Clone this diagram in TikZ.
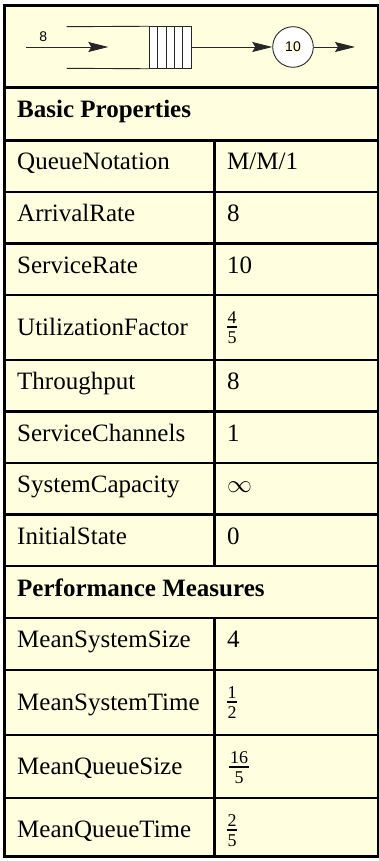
\documentclass[tikz,border=0pt]{standalone}
\usepackage{fontspec}
\setmainfont{Liberation Serif}
\newfontfamily\diagfont{Liberation Sans}
\usetikzlibrary{arrows.meta}
\definecolor{bg}{RGB}{255,255,224}
\begin{document}
\begin{tikzpicture}[x=1pt,y=-1pt,
  grid/.style={line width=2.3pt, black},
  lbl/.style={anchor=base west, inner sep=0pt, font=\fontsize{25}{30}\selectfont},
  hdr/.style={anchor=base west, inner sep=0pt, font=\fontsize{25}{30}\selectfont\bfseries},
  num/.style={anchor=base, inner sep=0pt, font=\fontsize{18}{18}\selectfont},
  fracbar/.style={line width=1.2pt, black},
  thinline/.style={line width=0.9pt, black!85},
  arr/.style={thinline, -{Stealth[length=20pt,width=10pt,inset=3pt]}},
  dlabel/.style={inner sep=0.5pt, font=\diagfont\fontsize{14}{14}\selectfont},
  pics/fr/.style n args={3}{code={
    \node[num] (-n) at (0,-4) {#1};
    \draw[fracbar] (-#3/2,0) -- (#3/2,0);
    \node[num] (-d) at (0,16.5) {#2};
  }},
]
\useasboundingbox (0,0) rectangle (379,861);
\fill[bg] (4.5,5.3) rectangle (377.8,856.5);

% ---------- queue diagram ----------
\coordinate (inA) at (26,47);
\coordinate (inB) at (108.3,47);
\coordinate (chTop) at (66.7,26.7);
\coordinate (chBot) at (66.7,68.3);
\node[draw=black!85, line width=0.9pt, fill=white, minimum width=42.4pt, minimum height=41.6pt, inner sep=0pt] (q) at (170.5,47.5) {};
\foreach \xx in {157.7,166,174.3,182.7} \draw[thinline] (\xx,26.7) -- (\xx,68.3);
\draw[thinline] (chTop) -- (q.north west);
\draw[thinline] (chBot) -- (q.south west);
\draw[arr] (inA) -- (inB);
\node[dlabel] (lam) at (43.3,36.7) {8};
\node[circle, draw=black!85, line width=0.9pt, fill=white, minimum size=40.6pt, inner sep=0pt] (srv) at (293,47) {};
\node[dlabel, fill=bg] (mu) at (srv) {10};
\draw[arr] (q.east |- srv.west) -- (srv.west);
\coordinate (outB) at (355,47);
\draw[arr] (srv.east) -- (outB);

% ---------- table lines ----------
\foreach \yy in {87.5,140.5,192,243.5,295,360,411.5,463,514.5,566,618,670,735,798}
  \draw[grid] (4.5,\yy) -- (377.8,\yy);
\draw[grid] (214.5,140.5) -- (214.5,566);
\draw[grid] (214.5,618) -- (214.5,856.5);
\draw[line width=2.5pt] (4.5,5.3) rectangle (377.8,856.5);

% ---------- texts ----------
\node[hdr] (h1) at (17,118) {Basic Properties};
\node[lbl] (l1) at (17,170) {QueueNotation};       \node[lbl] (v1) at (227,170) {M/M/1};
\node[lbl] (l2) at (17,221.5) {ArrivalRate};       \node[lbl] (v2) at (227,221.5) {8};
\node[lbl] (l3) at (17,273) {ServiceRate};         \node[lbl] (v3) at (227,273) {10};
\node[lbl] (l4) at (17,335) {UtilizationFactor};   \pic (v4) at (232,327) {fr={4}{5}{10}};
\node[lbl] (l5) at (17,389.5) {Throughput};        \node[lbl] (v5) at (227,389.5) {8};
\node[lbl] (l6) at (17,441) {ServiceChannels};     \node[lbl] (v6) at (227,441) {1};
\node[lbl] (l7) at (17,492.5) {SystemCapacity};    \node[lbl] (v7) at (227,492.5) {$\infty$};
\node[lbl] (l8) at (17,544) {InitialState};        \node[lbl] (v8) at (227,544) {0};
\node[hdr] (h2) at (17,596) {Performance Measures};
\node[lbl] (l9) at (17,647.5) {MeanSystemSize};    \node[lbl] (v9) at (227,647.5) {4};
\node[lbl] (l10) at (17,710) {MeanSystemTime};     \pic (v10) at (232,702) {fr={1}{2}{10}};
\node[lbl] (l11) at (17,774) {MeanQueueSize};      \pic (v11) at (239,767) {fr={16}{5}{20}};
\node[lbl] (l12) at (17,837) {MeanQueueTime};      \pic (v12) at (232,830) {fr={2}{5}{10}};
\end{tikzpicture}
\end{document}
